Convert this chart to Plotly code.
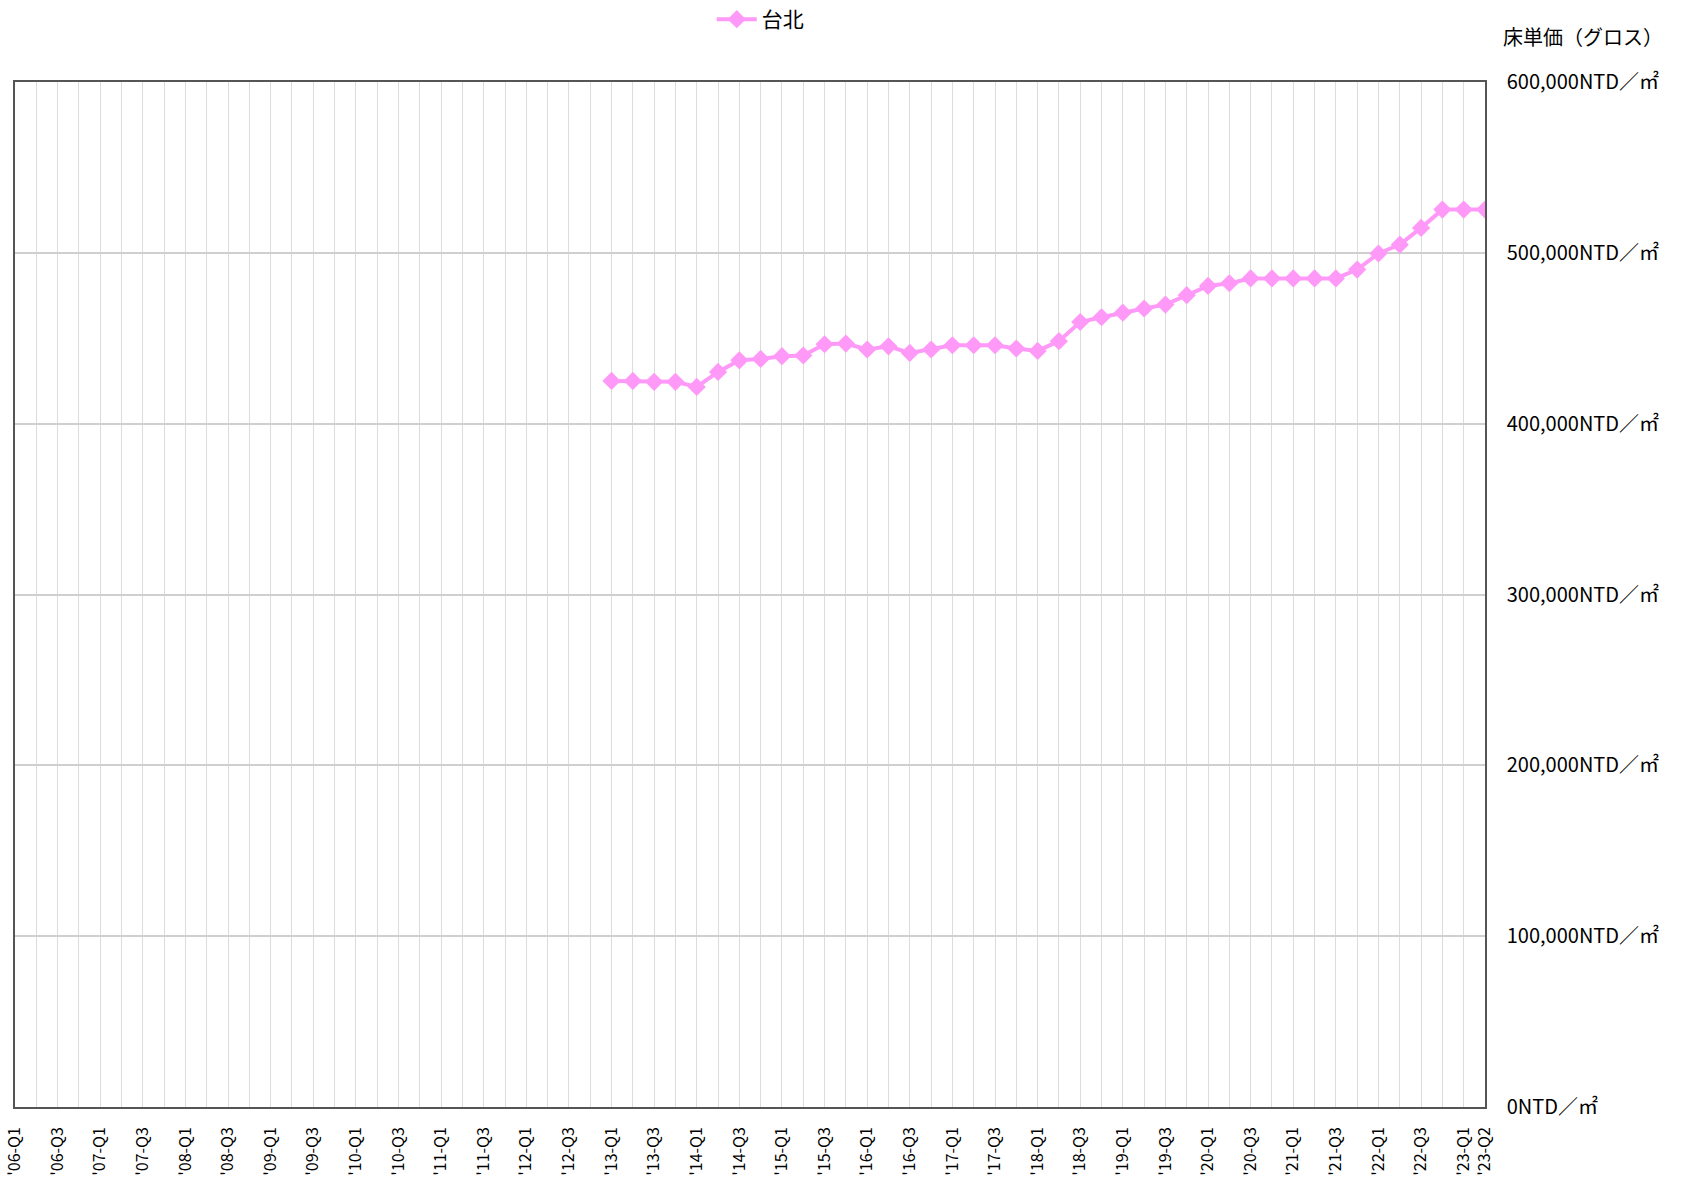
import plotly.graph_objects as go

years = list(range(6, 24))
categories = []
for y in years:
    for q in range(1, 5):
        if y == 23 and q > 2:
            break
        categories.append(f"'{y:02d}-Q{q}")

# 台北 floor unit price (gross), NTD/㎡, from '13-Q1 to '23-Q2
taipei_start = "'13-Q1"
taipei_values = [
    425000, 425000, 424500, 424500,   # '13
    421500, 430300, 437100, 437900,   # '14
    439500, 439900, 446500, 446900,   # '15
    443400, 445300, 441400, 443400,   # '16
    445900, 445900, 445900, 444000,   # '17
    442600, 448300, 459500, 462300,   # '18
    465000, 467400, 469700, 475200,   # '19
    480600, 482200, 485000, 485000,   # '20
    485000, 485000, 485000, 490200,   # '21
    499600, 504800, 514600, 525300,   # '22
    525300, 525300,                   # '23
]
start_idx = categories.index(taipei_start)
taipei_x = categories[start_idx:start_idx + len(taipei_values)]

tick_text = []
for i, c in enumerate(categories):
    if c.endswith("Q1") or c.endswith("Q3") or i == len(categories) - 1:
        tick_text.append(c)
    else:
        tick_text.append("")

y_ticks = [0, 100000, 200000, 300000, 400000, 500000, 600000]
y_labels = [f"{v:,}NTD／㎡" for v in y_ticks]

FONT = "Noto Sans CJK JP"
PINK = "#FF99F8"

fig = go.Figure()
fig.add_trace(go.Scatter(
    x=taipei_x, y=taipei_values, name="台北",
    mode="lines+markers",
    line=dict(color=PINK, width=4),
    marker=dict(symbol="diamond", size=14, color=PINK),
))

fig.update_layout(
    width=1684, height=1180,
    margin=dict(l=15, r=199, t=82, b=73, autoexpand=False),
    paper_bgcolor="white", plot_bgcolor="white",
    font=dict(family=FONT, color="#000000", size=18),
    showlegend=True,
    legend=dict(orientation="h", x=0.474, y=1.061, xanchor="left", yanchor="middle",
                font=dict(size=21, family=FONT), bgcolor="rgba(0,0,0,0)",
                itemwidth=40),
    xaxis=dict(
        type="category", categoryorder="array", categoryarray=categories,
        range=[0, len(categories) - 1], automargin=False,
        tickmode="array", tickvals=categories, ticktext=tick_text,
        tickangle=-90, tickfont=dict(size=16, family=FONT),
        showgrid=True, gridcolor="#dcdcdc", gridwidth=1,
        showline=True, linecolor="#555555", linewidth=1.5, mirror=True,
        ticks="outside", ticklen=12, tickcolor="rgba(0,0,0,0)",
        zeroline=False,
    ),
    yaxis=dict(
        side="right", range=[0, 600000], automargin=False,
        tickmode="array", tickvals=y_ticks, ticktext=y_labels,
        tickfont=dict(size=20, family=FONT),
        showgrid=True, gridcolor="#cfcfcf", gridwidth=2,
        showline=True, linecolor="#555555", linewidth=1.5, mirror=True,
        ticks="outside", ticklen=16, tickcolor="rgba(0,0,0,0)",
        zeroline=False,
    ),
    annotations=[dict(
        text="床単価（グロス）", xref="paper", yref="paper",
        x=1.011, y=1.028, xanchor="left", yanchor="bottom",
        showarrow=False, font=dict(size=20, family=FONT),
    )],
)

fig.write_html("out.html",
               config={"displayModeBar": False},
               post_script="document.body.style.margin='0';document.body.style.overflow='hidden';")
